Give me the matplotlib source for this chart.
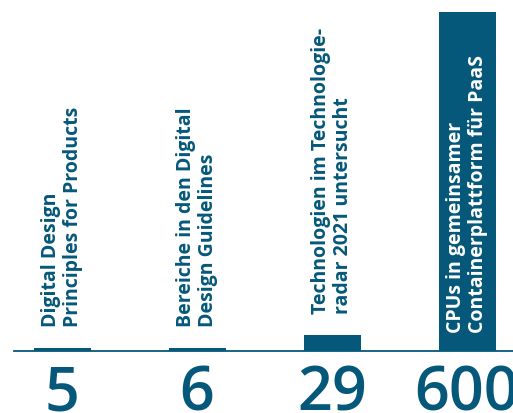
import matplotlib
matplotlib.use("Agg")
import matplotlib.pyplot as plt

# Daten
values = [5, 6, 29, 600]
numbers = ["5", "6", "29", "600"]
labels = ["Digital Design\nPrinciples for Products",
          "Bereiche in den Digital\nDesign Guidelines",
          "Technologien im Technologie-\nradar 2021 untersucht",
          "CPUs in gemeinsamer\nContainerplattform für PaaS"]

BLAU = "#05587a"
W, H = 513, 414

fig = plt.figure(figsize=(W / 100, H / 100), dpi=100)
ax = fig.add_axes([0, 0, 1, 1])
ax.axis("off")

step = 135.0  # px zwischen Balkenmitten
x0 = 62.0
ax.set_xlim(-x0 / step, (W - x0) / step)
base = 62.0; scale = 339.0 / 600
ax.set_ylim(-base / scale, (H - base) / scale)

xs = list(range(len(values)))
ax.bar(xs, values, width=57 / step, color=BLAU, zorder=2)
ax.axhline(0, xmin=14 / W, xmax=1, color=BLAU, lw=1.3, zorder=3)

for x, v, n, lab in zip(xs, values, numbers, labels):
    ax.annotate(n, (x, 0), xytext=(0, -59), textcoords="offset pixels",
                ha="center", va="baseline", fontsize=44, color=BLAU,
                family="Open Sans", weight="semibold", annotation_clip=False)
    inside = v > 300
    ypos = 0 if inside else v
    off = 19 if inside else 22
    ax.annotate(lab, (x, ypos), xytext=(0, off), textcoords="offset pixels",
                ha="center", va="bottom", rotation=90, multialignment="left",
                fontsize=14, color="white" if inside else BLAU,
                family="Open Sans", weight="bold", linespacing=1.15,
                zorder=4)

fig.savefig("out.png", dpi=100, facecolor="white")
